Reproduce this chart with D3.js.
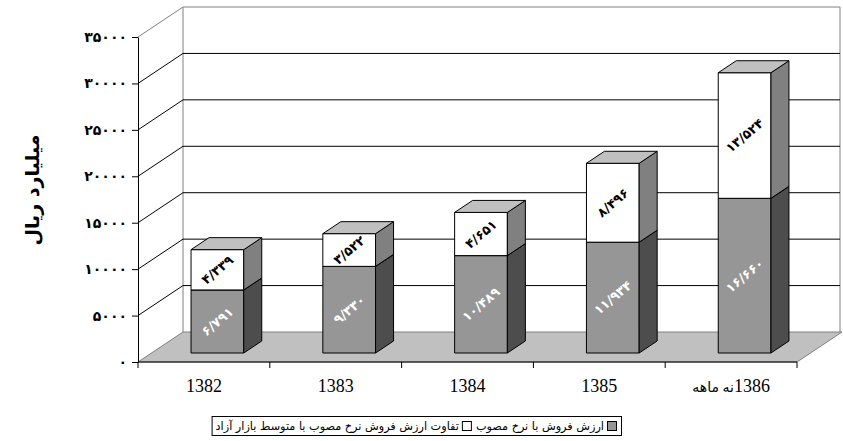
<!DOCTYPE html>
<html>
<head>
<meta charset="utf-8">
<script src="https://cdn.jsdelivr.net/npm/d3@7"></script>
<style>
    body { margin: 0; background: #fff; }
    svg { display: block; }
</style>
</head>
<body>
<div id="chart"></div>
<script>
'use strict';

var years = ['1382', '1383', '1384', '1385', '1386'];
var yearLabels = ['1382', '1383', '1384', '1385', '1386نه ماهه'];
var officialValues = [6791, 9330, 10489, 11934, 16660];
var gapValues = [4339, 3522, 4651, 8496, 13524];
var yTicks = [0, 5000, 10000, 15000, 20000, 25000, 30000, 35000];
var seriesNames = ['ارزش فروش با نرخ مصوب', 'تفاوت ارزش فروش نرخ مصوب با متوسط بازار آزاد'];
var yTitle = 'میلیارد ریال';

var width = 843;
var height = 441;

// front plane of the 3d box and the depth offset of the back wall
var plotLeft = 138, plotRight = 797, plotBase = 362, plotTop = 37;
var depthX = 45, depthY = -30;
var wallRight = 840;

// bars sit between 30% and 70% of the depth
var barFront = 0.3, barBack = 0.7;

var toPersian = function(s) {
    return String(s).replace(/\d/g, function(d) { return '۰۱۲۳۴۵۶۷۸۹'[+d]; });
};

var labelFormat = function(v) {
    return toPersian(d3.format(',')(v).replace(',', '/'));
};

var svg = d3.select('#chart').append('svg')
    .attr('width', width)
    .attr('height', height);

var x = d3.scaleBand()
    .domain(years)
    .range([plotLeft, plotRight])
    .paddingInner(0.6)
    .paddingOuter(0.3);

var y = d3.scaleLinear()
    .domain([0, 35000])
    .range([plotBase, plotTop]);

var grey = '#808080';

// floor
svg.append('polygon')
    .attr('points', [[plotLeft, plotBase], [plotRight, plotBase], [plotRight + depthX, plotBase + depthY], [plotLeft + depthX, plotBase + depthY]].join(' '))
    .attr('fill', '#c0c0c0')
    .attr('stroke', grey);

// walls outline
svg.append('path')
    .attr('d', 'M' + plotLeft + ',' + y(35000) + 'L' + (plotLeft + depthX) + ',' + (y(35000) + depthY) +
        'L' + wallRight + ',' + (y(35000) + depthY) + 'L' + wallRight + ',' + (plotBase + depthY))
    .attr('fill', 'none')
    .attr('stroke', grey);
svg.append('line')
    .attr('x1', plotLeft + depthX).attr('x2', plotLeft + depthX)
    .attr('y1', y(35000) + depthY).attr('y2', plotBase + depthY)
    .attr('stroke', grey);

// gridlines on the side and back wall
var grid = svg.append('g').attr('fill', 'none').attr('stroke', '#000');
yTicks.filter(function(v) { return v > 0 && v < 35000; }).forEach(function(v) {
    grid.append('path')
        .attr('d', 'M' + plotLeft + ',' + y(v) + 'L' + (plotLeft + depthX) + ',' + (y(v) + depthY) +
            'L' + wallRight + ',' + (y(v) + depthY));
});

// y axis
var yAxis = svg.append('g')
    .attr('transform', 'translate(' + plotLeft + ',0)')
    .call(d3.axisLeft(y).tickValues(yTicks).tickSize(6).tickSizeOuter(0).tickPadding(5)
        .tickFormat(function(d) { return toPersian(d); }));
yAxis.select('.domain').attr('stroke', '#000');
yAxis.selectAll('.tick line').attr('stroke', '#000');
yAxis.selectAll('.tick text')
    .attr('fill', '#000')
    .style('font-family', '"DejaVu Sans", sans-serif')
    .style('font-weight', 'bold')
    .style('font-size', '14px');

// x axis: front edge of the floor with ticks between categories
var step = x.step();
svg.append('line')
    .attr('x1', plotLeft).attr('x2', plotRight)
    .attr('y1', plotBase).attr('y2', plotBase)
    .attr('stroke', '#000');
d3.range(years.length + 1).forEach(function(i) {
    svg.append('line')
        .attr('x1', plotLeft + i * step).attr('x2', plotLeft + i * step)
        .attr('y1', plotBase).attr('y2', plotBase + 6)
        .attr('stroke', '#000');
});
svg.selectAll('text.year')
    .data(years)
    .enter().append('text')
    .attr('class', 'year')
    .attr('x', function(d) { return x(d) + x.bandwidth() / 2; })
    .attr('y', 392)
    .attr('text-anchor', 'middle')
    .attr('direction', 'rtl')
    .style('font-family', '"Liberation Serif", "DejaVu Sans", serif')
    .style('font-size', '18px')
    .text(function(d, i) { return yearLabels[i]; });
// the persian part of the last label is smaller in the original
svg.selectAll('text.year').filter(function(d, i) { return i === years.length - 1; })
    .text(null)
    .call(function(t) {
        t.append('tspan').text('1386');
        t.append('tspan').style('font-size', '14px').text('نه ماهه');
    });

// bars
var bw = x.bandwidth();
var bx = depthX * barFront, by = depthY * barFront;
var bdx = depthX * (barBack - barFront), bdy = depthY * (barBack - barFront);

var segments = [];
years.forEach(function(year, i) {
    segments.push({ year: year, v0: 0, v1: officialValues[i], value: officialValues[i], s: 0 });
    segments.push({ year: year, v0: officialValues[i], v1: officialValues[i] + gapValues[i], value: gapValues[i], s: 1 });
});

var faceColors = [
    { front: '#969696', side: '#4d4d4d', top: '#b4b4b4', text: '#fff' },
    { front: '#ffffff', side: '#808080', top: '#c0c0c0', text: '#000' }
];

var bars = svg.selectAll('g.bar')
    .data(segments)
    .enter().append('g')
    .attr('class', 'bar')
    .attr('stroke', '#000')
    .attr('stroke-width', 1)
    .attr('stroke-linejoin', 'round');

bars.each(function(d) {
    var g = d3.select(this);
    var x0 = x(d.year) + bx, x1 = x0 + bw;
    var yt = y(d.v1) + by, yb = y(d.v0) + by;
    var c = faceColors[d.s];

    g.append('rect')
        .attr('x', x0).attr('y', yt)
        .attr('width', bw).attr('height', yb - yt)
        .attr('fill', c.front);
    g.append('polygon')
        .attr('points', [[x1, yt], [x1 + bdx, yt + bdy], [x1 + bdx, yb + bdy], [x1, yb]].join(' '))
        .attr('fill', c.side);
    g.append('polygon')
        .attr('points', [[x0, yt], [x0 + bdx, yt + bdy], [x1 + bdx, yt + bdy], [x1, yt]].join(' '))
        .attr('fill', c.top);
});

// value labels on the front faces
bars.append('text')
    .attr('transform', function(d) {
        var cx = x(d.year) + bx + bw / 2;
        var cy = (y(d.v0) + y(d.v1)) / 2 + by;
        return 'translate(' + cx + ',' + cy + ') rotate(-40)';
    })
    .attr('dy', '0.35em')
    .attr('text-anchor', 'middle')
    .attr('stroke', 'none')
    .attr('fill', function(d) { return faceColors[d.s].text; })
    .style('font-family', '"DejaVu Sans", sans-serif')
    .style('font-weight', 'bold')
    .style('font-size', '13px')
    .text(function(d) { return labelFormat(d.value); });

// y title
svg.append('text')
    .attr('transform', 'translate(39,190) rotate(-90)')
    .attr('text-anchor', 'middle')
    .style('font-family', '"DejaVu Sans", sans-serif')
    .style('font-weight', 'bold')
    .style('font-size', '19px')
    .text(yTitle);

// legend, laid out right to left
var legend = svg.append('g');
var legendBox = legend.append('rect')
    .attr('fill', '#fff')
    .attr('stroke', '#000');

var legendTexts = seriesNames.map(function(name) {
    return legend.append('text')
        .attr('direction', 'rtl')
        .attr('text-anchor', 'start')
        .attr('y', 430)
        .style('font-family', '"DejaVu Sans", sans-serif')
        .style('font-size', '13px')
        .text(name);
});
// fit both labels into roughly the width they take in the original
var natural = d3.sum(legendTexts, function(t) { return t.node().getComputedTextLength(); });
var legendSize = 13 * 372 / natural;
legendTexts.forEach(function(t) { t.style('font-size', legendSize + 'px'); });

var cursor = 617;
var legendLeft = cursor;
seriesNames.forEach(function(name, i) {
    legend.append('rect')
        .attr('x', cursor - 9.5).attr('y', 421.5)
        .attr('width', 9).attr('height', 9)
        .attr('fill', faceColors[i].front)
        .attr('stroke', '#000');
    cursor -= 13;
    legendTexts[i].attr('x', cursor);
    cursor -= legendTexts[i].node().getComputedTextLength() + 4;
    legendLeft = cursor;
});
legendBox
    .attr('x', legendLeft + 0.5).attr('y', 416.5)
    .attr('width', 621 - legendLeft).attr('height', 19);
</script>
</body>
</html>
